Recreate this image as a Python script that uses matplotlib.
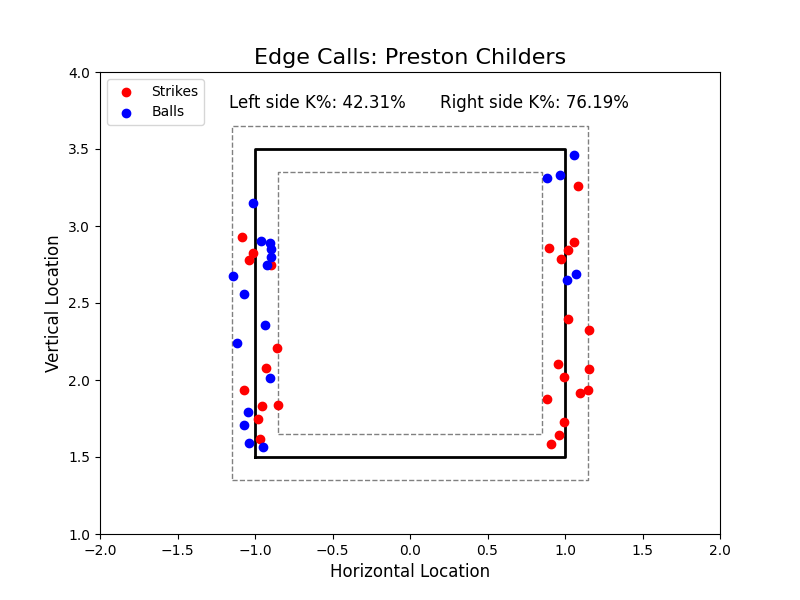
import matplotlib
matplotlib.use("Agg")
import matplotlib.pyplot as plt

strike_x = [-1.083,-1.011,-1.037,-0.894,-0.855,-0.927,-1.070,-0.953,-0.849,-0.979,-0.966,
            1.083,0.894,1.057,1.018,0.972,1.018,1.154,0.953,0.992,1.154,0.881,1.096,1.148,0.992,0.959,0.907]
strike_y = [2.929,2.825,2.779,2.747,2.208,2.078,1.935,1.831,1.838,1.747,1.617,
            3.260,2.857,2.896,2.844,2.786,2.396,2.325,2.104,2.019,2.071,1.877,1.916,1.935,1.727,1.643,1.584]
ball_x = [-1.011,-0.959,-0.901,-0.894,-0.894,-0.920,-1.141,-1.070,-0.933,-1.115,-0.901,-1.044,-1.070,-1.037,-0.946,
          1.057,0.881,0.966,1.070,1.011]
ball_y = [3.149,2.903,2.890,2.851,2.799,2.747,2.675,2.558,2.357,2.240,2.013,1.792,1.708,1.591,1.565,
          3.461,3.312,3.331,2.688,2.649]
left_k = 42.31
right_k = 76.19

fig, ax = plt.subplots(figsize=(8, 6), dpi=100)
ax.plot([-1, 1, 1, -1, -1], [1.5, 1.5, 3.5, 3.5, 1.5], color='black', lw=2)
ax.plot([-1.15, 1.15, 1.15, -1.15, -1.15], [1.35, 1.35, 3.65, 3.65, 1.35], color='gray', ls='--', lw=1)
ax.plot([-0.85, 0.85, 0.85, -0.85, -0.85], [1.65, 1.65, 3.35, 3.35, 1.65], color='gray', ls='--', lw=1)
ax.scatter(strike_x, strike_y, color='red', label='Strikes', zorder=3)
ax.scatter(ball_x, ball_y, color='blue', label='Balls', zorder=3)
ax.set_xlim(-2, 2)
ax.set_ylim(1, 4)
ax.set_xlabel('Horizontal Location', fontsize=12)
ax.set_ylabel('Vertical Location', fontsize=12)
ax.set_title('Edge Calls: Preston Childers', fontsize=16)
ax.text(-0.6, 3.8, f'Left side K%: {left_k:.2f}%', ha='center', va='center', fontsize=12)
ax.text(0.8, 3.8, f'Right side K%: {right_k:.2f}%', ha='center', va='center', fontsize=12)
ax.legend(loc='upper left')
fig.savefig('out.png')
